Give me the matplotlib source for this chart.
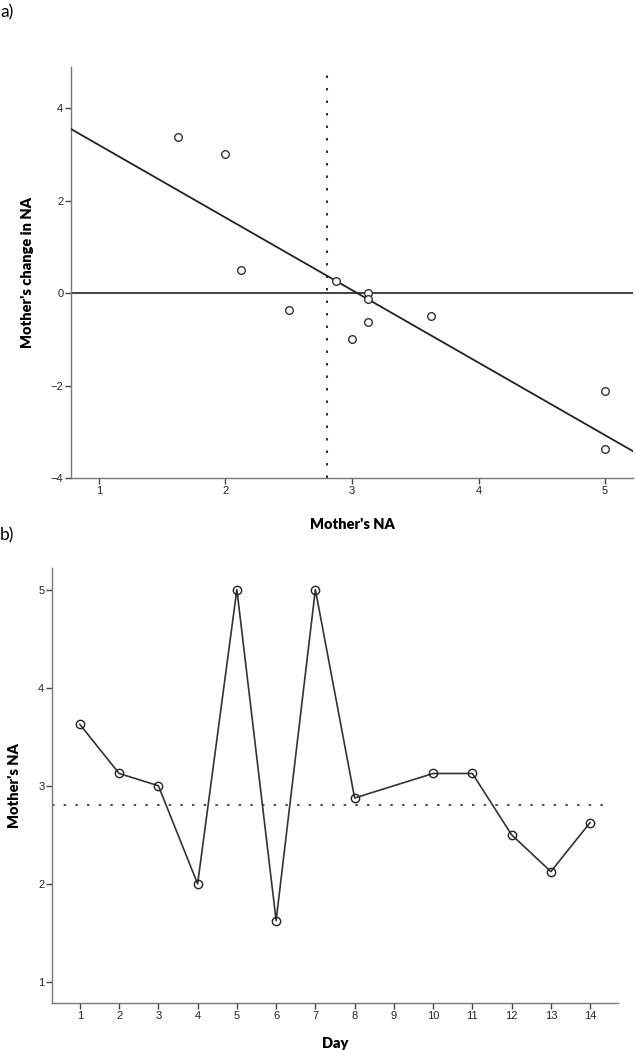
import numpy as np
import matplotlib.pyplot as plt

# Panel a) data: mother's NA vs change in NA
na_x = [1.625, 2.0, 2.125, 2.5, 2.875, 3.0, 3.125, 3.125, 3.125, 3.625, 5.0, 5.0]
change_y = [3.375, 3.0, 0.5, -0.375, 0.25, -1.0, 0.0, -0.125, -0.625, -0.5, -2.125, -3.375]
mean_na = 2.8

# Panel b) data: mother's NA by day (day 9 missing)
days = [1, 2, 3, 4, 5, 6, 7, 8, 10, 11, 12, 13, 14]
na_day = [3.625, 3.125, 3.0, 2.0, 5.0, 1.625, 5.0, 2.875, 3.125, 3.125, 2.5, 2.125, 2.625]
day_ticks = list(range(1, 15))

tick_font = 'Liberation Sans'
label_font = 'Lato'
spine_col = '#777777'
line_col = '#222222'

fig = plt.figure(figsize=(6.35, 10.5), dpi=100)


def style_axes(ax):
    for s in ['top', 'right']:
        ax.spines[s].set_visible(False)
    for s in ['left', 'bottom']:
        ax.spines[s].set_color(spine_col)
        ax.spines[s].set_linewidth(1.0)
    ax.tick_params(direction='out', length=4, width=1.0, color='#444444',
                   labelsize=8, labelcolor='#222222', pad=1.5)
    for lab in ax.get_xticklabels() + ax.get_yticklabels():
        lab.set_fontfamily(tick_font)


# a) scatter with regression line
ax1 = fig.add_axes([0.1118, 0.5448, 0.885, 0.3914])
ax1.set_xlim(0.78, 5.22)
ax1.set_ylim(-4, 4.89)
slope, intercept = np.polyfit(na_x, change_y, 1)
xs = np.array(ax1.get_xlim())
ax1.plot(xs, slope * xs + intercept, color=line_col, lw=1.3, zorder=3)
ax1.axhline(0, color='#333333', lw=1.3, zorder=2)
ax1.axvline(mean_na, ymax=0.985, color='#333333', lw=1.5,
            linestyle=(0, (1.2, 4.8)), zorder=2)
ax1.plot(na_x, change_y, linestyle='none', marker='o', ms=5.5,
         mfc='white', mec='#333333', mew=1.0, zorder=4)
ax1.set_xticks([1, 2, 3, 4, 5])
ax1.set_yticks([-4, -2, 0, 2, 4])
style_axes(ax1)
ax1.set_xlabel("Mother's NA", fontfamily=label_font, fontweight='heavy',
               fontsize=10.5, labelpad=16)
ax1.set_ylabel("Mother's change in NA", fontfamily=label_font, fontweight='heavy',
               fontsize=10.5, labelpad=12)

# b) line plot by day
ax2 = fig.add_axes([0.0819, 0.0448, 0.8913, 0.4143])
ax2.set_xlim(0.29, 14.71)
ax2.set_ylim(0.786, 5.22)
ax2.axhline(mean_na, xmax=0.99, color='#555555', lw=1.5,
            linestyle=(0, (1.2, 4.4)), zorder=2)
ax2.plot(days, na_day, color='#333333', lw=1.2, marker='o', ms=6,
         mfc='none', mec='#222222', mew=1.0, zorder=3)
ax2.set_xticks(day_ticks)
ax2.set_yticks([1, 2, 3, 4, 5])
style_axes(ax2)
ax2.set_xlabel("Day", fontfamily=label_font, fontweight='heavy',
               fontsize=10.5, labelpad=12)
ax2.set_ylabel("Mother's NA", fontfamily=label_font, fontweight='heavy',
               fontsize=10.5, labelpad=12)

fig.text(0.0, 1 - 12 / 1050, "a)", fontfamily=label_font, fontsize=12.5,
         va='center', ha='left')
fig.text(0.0, 1 - 535 / 1050, "b)", fontfamily=label_font, fontsize=12.5,
         va='center', ha='left')

fig.savefig('out.png', dpi=100)
